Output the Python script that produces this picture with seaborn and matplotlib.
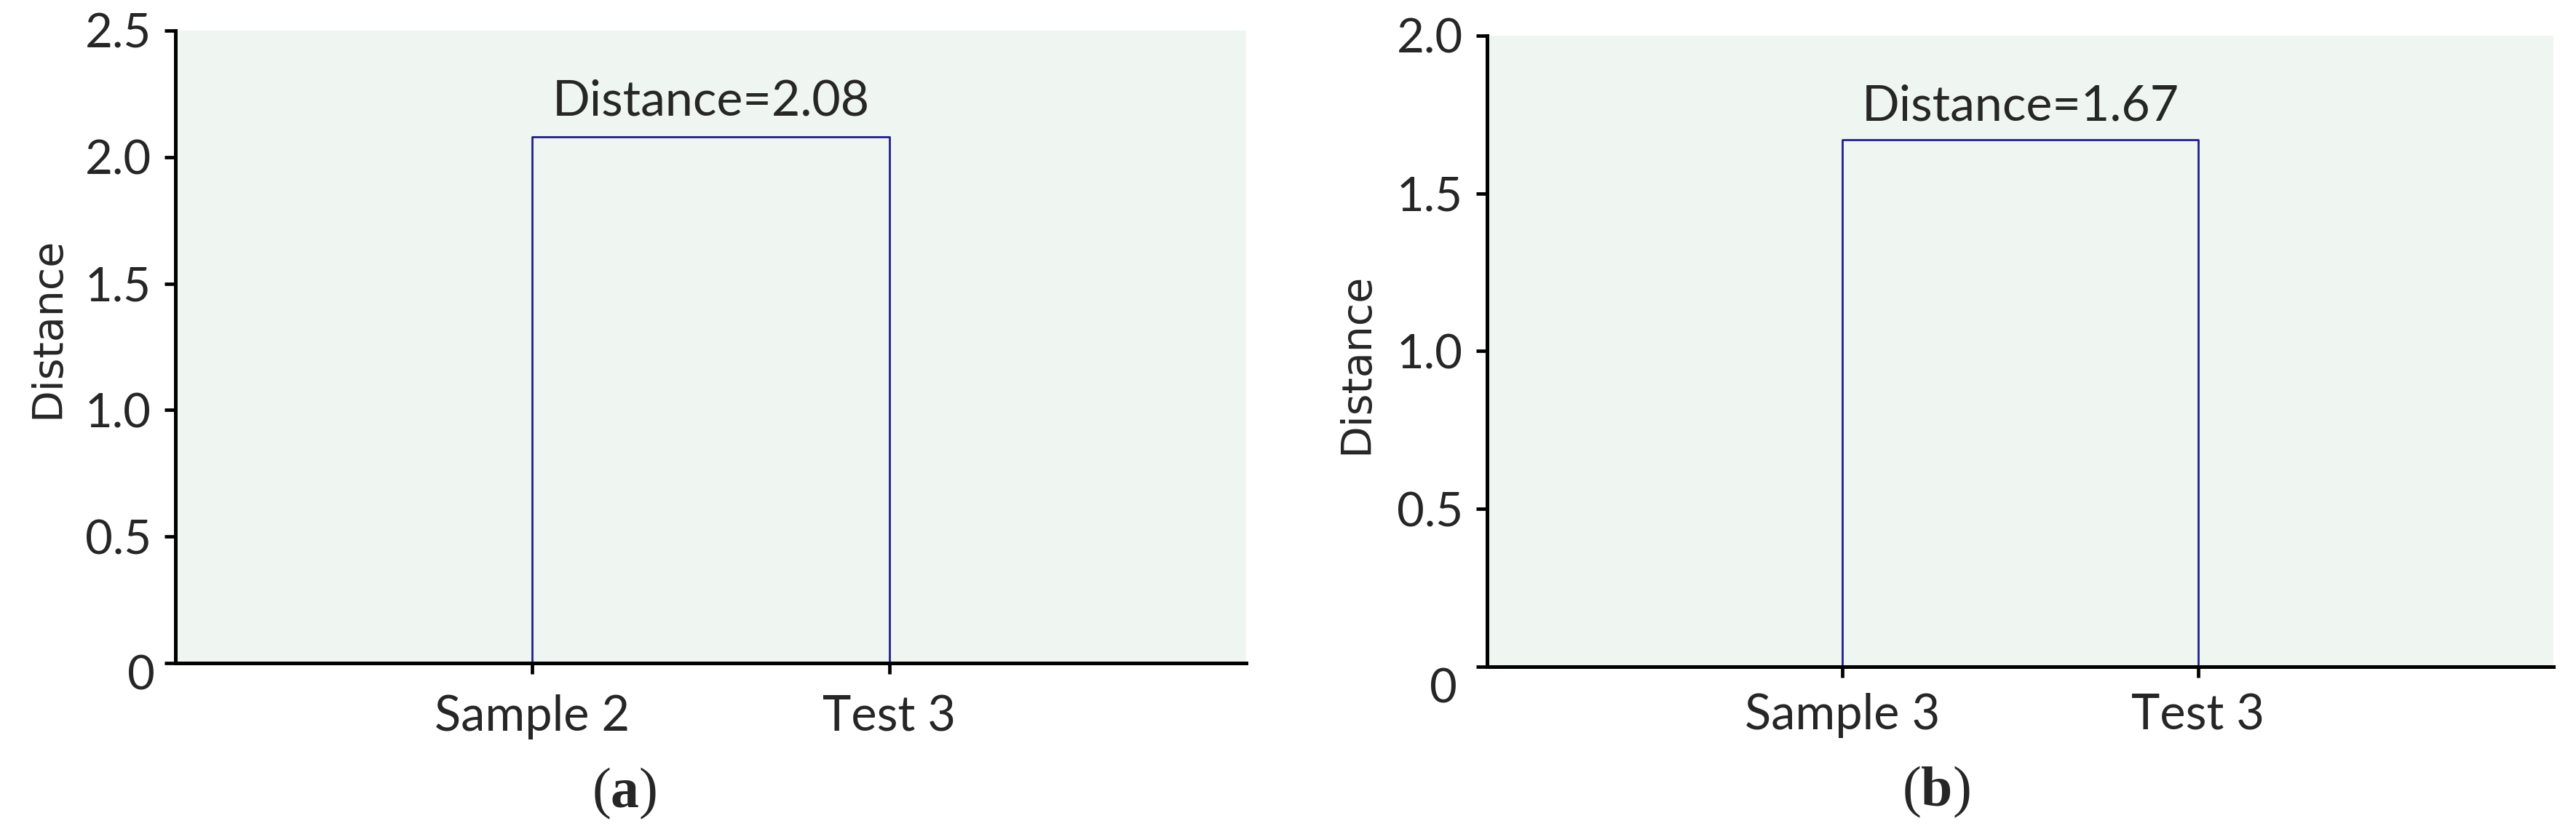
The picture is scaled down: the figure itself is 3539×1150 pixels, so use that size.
import numpy as np
import pandas as pd
import matplotlib
matplotlib.use("Agg")
import matplotlib.pyplot as plt
import seaborn as sns

# ---- data ----
leaves_a = ["Sample 2", "Test 3"]
dist_a = 2.08
yticks_a = [0, 0.5, 1.0, 1.5, 2.0, 2.5]
ylim_a = 2.5

leaves_b = ["Sample 3", "Test 3"]
dist_b = 1.67
yticks_b = [0, 0.5, 1.0, 1.5, 2.0]
ylim_b = 2.0

panel_tags = ["a", "b"]
y_title = "Distance"

sns.set_theme(style="ticks")
plt.rcParams["font.family"] = ["Lato", "DejaVu Sans"]
plt.rcParams["mathtext.fontset"] = "custom"
plt.rcParams["mathtext.bf"] = "Liberation Serif:bold"
plt.rcParams["mathtext.rm"] = "Liberation Serif"

BG = "#EFF5F1"
LINE = "#1F1F8C"

fig = plt.figure(figsize=(35.39, 11.5), dpi=100)
ax_a = fig.add_axes([0.0681, 0.2078, 0.4156, 0.7557])
ax_b = fig.add_axes([0.5773, 0.2035, 0.4139, 0.7539])


def draw_panel(ax, leaves, dist, yticks, ylim, zero_off, xpad, ylab_pos, ann_off):
    ax.set_facecolor(BG)
    pos = np.arange(len(leaves))
    df = pd.DataFrame({
        "x": [pos[0], pos[0], pos[1], pos[1]],
        "y": [0, dist, dist, 0],
    })
    sns.lineplot(data=df, x="x", y="y", sort=False, estimator=None,
                 color=LINE, linewidth=2.0, ax=ax, clip_on=False)
    ax.set_xlim(-1, 2)
    ax.set_ylim(0, ylim)
    ax.set_xticks(pos)
    ax.set_xticklabels(leaves, fontsize=48)
    ax.set_yticks(yticks)
    ax.set_yticklabels(["" if v == 0 else f"{v:.1f}" for v in yticks], fontsize=47)
    ax.tick_params(axis="both", direction="out", length=11, width=3.4, color="black")
    ax.tick_params(axis="y", pad=13)
    ax.tick_params(axis="x", pad=xpad)
    for s in ["top", "right"]:
        ax.spines[s].set_visible(False)
    for s in ["left", "bottom"]:
        ax.spines[s].set_linewidth(3.6)
        ax.spines[s].set_color("black")
    ax.set_xlabel("")
    ax.set_ylabel(y_title, fontsize=41, family=["DejaVu Sans"], va="center", ha="center")
    ax.yaxis.set_label_coords(*ylab_pos)
    # the "0" label of the y axis sits lower than its tick
    ax.annotate("0", xy=(0, 0), xycoords=("axes fraction", "data"),
                xytext=zero_off, textcoords="offset points",
                ha="center", va="center", fontsize=47, annotation_clip=False)
    ax.annotate(f"{y_title}={dist:.2f}", xy=(pos.mean(), dist), xycoords="data",
                xytext=(0, ann_off), textcoords="offset points",
                ha="center", va="baseline", fontsize=49)


draw_panel(ax_a, leaves_a, dist_a, yticks_a, ylim_a, (-34, -13), 20, (-0.119, 0.53), 21)
draw_panel(ax_b, leaves_b, dist_b, yticks_b, ylim_b, (-43, -22), 15, (-0.122, 0.48), 19)

fig.text(858 / 3539, 1 - 1090 / 1150, f"(${{\\mathbf{{{panel_tags[0]}}}}}$)",
         ha="center", va="center", fontsize=56, family=["Liberation Serif"])
fig.text(2660 / 3539, 1 - 1088 / 1150, f"(${{\\mathbf{{{panel_tags[1]}}}}}$)",
         ha="center", va="center", fontsize=56, family=["Liberation Serif"])

fig.savefig("out.png", dpi=100, facecolor="white")
